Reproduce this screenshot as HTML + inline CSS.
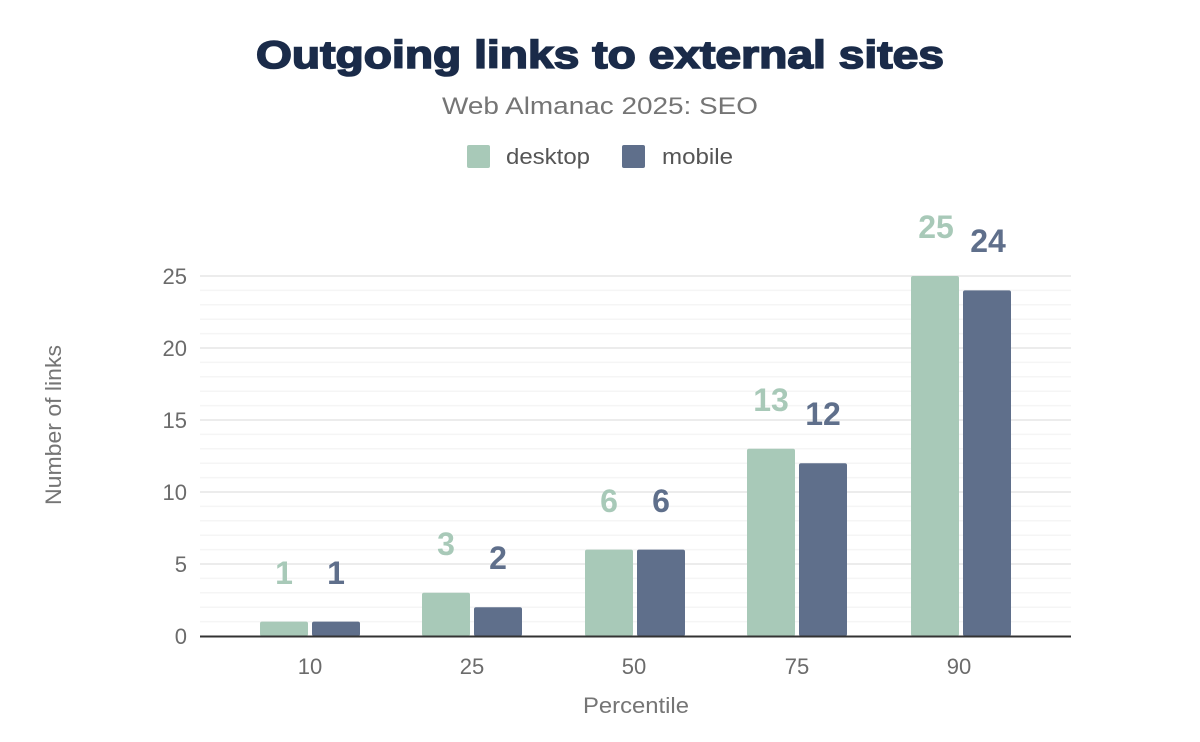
<!DOCTYPE html>
<html><head><meta charset="utf-8"><style>
body{margin:0;background:#fff;}
svg{display:block;font-family:"Liberation Sans",Arial,sans-serif;}
</style></head><body>
<svg width="1200" height="742" viewBox="0 0 1200 742">
<rect width="1200" height="742" fill="#fff"/>
<text x="256" y="68" font-size="39" font-weight="900" fill="#1a2b49" stroke="#1a2b49" stroke-width="1.6" textLength="688" lengthAdjust="spacingAndGlyphs">Outgoing links to external sites</text>
<text x="442" y="114" font-size="24" fill="#757575" textLength="316" lengthAdjust="spacingAndGlyphs">Web Almanac 2025: SEO</text>
<rect x="467" y="145" width="23" height="23" rx="2" fill="#a8c9b8"/>
<text x="506" y="164" font-size="22" fill="#555" textLength="84" lengthAdjust="spacingAndGlyphs">desktop</text>
<rect x="622" y="145" width="23" height="23" rx="2" fill="#5f6f8b"/>
<text x="662" y="164" font-size="22" fill="#555" textLength="71" lengthAdjust="spacingAndGlyphs">mobile</text>
<g stroke="#f5f5f5" stroke-width="1.5">
<line x1="200" x2="1071" y1="621.6" y2="621.6"/><line x1="200" x2="1071" y1="607.2" y2="607.2"/><line x1="200" x2="1071" y1="592.8" y2="592.8"/><line x1="200" x2="1071" y1="578.4" y2="578.4"/>
<line x1="200" x2="1071" y1="549.6" y2="549.6"/><line x1="200" x2="1071" y1="535.2" y2="535.2"/><line x1="200" x2="1071" y1="520.8" y2="520.8"/><line x1="200" x2="1071" y1="506.4" y2="506.4"/>
<line x1="200" x2="1071" y1="477.6" y2="477.6"/><line x1="200" x2="1071" y1="463.2" y2="463.2"/><line x1="200" x2="1071" y1="448.8" y2="448.8"/><line x1="200" x2="1071" y1="434.4" y2="434.4"/>
<line x1="200" x2="1071" y1="405.6" y2="405.6"/><line x1="200" x2="1071" y1="391.2" y2="391.2"/><line x1="200" x2="1071" y1="376.8" y2="376.8"/><line x1="200" x2="1071" y1="362.4" y2="362.4"/>
<line x1="200" x2="1071" y1="333.6" y2="333.6"/><line x1="200" x2="1071" y1="319.2" y2="319.2"/><line x1="200" x2="1071" y1="304.8" y2="304.8"/><line x1="200" x2="1071" y1="290.4" y2="290.4"/>
</g>
<g stroke="#ececec" stroke-width="2">
<line x1="200" x2="1071" y1="564" y2="564"/><line x1="200" x2="1071" y1="492" y2="492"/><line x1="200" x2="1071" y1="420" y2="420"/><line x1="200" x2="1071" y1="348" y2="348"/><line x1="200" x2="1071" y1="276" y2="276"/>
</g>
<g font-size="22" fill="#6b6b6b" text-anchor="end">
<text x="187" y="644">0</text><text x="187" y="572">5</text><text x="187" y="500">10</text><text x="187" y="428">15</text><text x="187" y="356">20</text><text x="187" y="284">25</text>
</g>
<text transform="translate(61,425) rotate(-90)" text-anchor="middle" font-size="22" fill="#757575" textLength="160" lengthAdjust="spacingAndGlyphs">Number of links</text>
<g fill="#a8c9b8">
<rect x="260" y="621.6" width="48" height="14.4" rx="2"/>
<rect x="422" y="592.8" width="48" height="43.2" rx="2"/>
<rect x="585" y="549.6" width="48" height="86.4" rx="2"/>
<rect x="747" y="448.8" width="48" height="187.2" rx="2"/>
<rect x="911" y="276" width="48" height="360" rx="2"/>
</g>
<g fill="#5f6f8b">
<rect x="312" y="621.6" width="48" height="14.4" rx="2"/>
<rect x="474" y="607.2" width="48" height="28.8" rx="2"/>
<rect x="637" y="549.6" width="48" height="86.4" rx="2"/>
<rect x="799" y="463.2" width="48" height="172.8" rx="2"/>
<rect x="963" y="290.4" width="48" height="345.6" rx="2"/>
</g>
<g font-size="32" font-weight="bold" text-anchor="middle" fill="#a8c9b8">
<text x="284" y="584">1</text><text x="446" y="555">3</text><text x="609" y="512">6</text><text x="771" y="411">13</text><text x="936" y="238">25</text>
</g>
<g font-size="32" font-weight="bold" text-anchor="middle" fill="#5f6f8b">
<text x="336" y="584">1</text><text x="498" y="569">2</text><text x="661" y="512">6</text><text x="823" y="425">12</text><text x="988" y="252">24</text>
</g>
<line x1="200" x2="1071" y1="636.5" y2="636.5" stroke="#333" stroke-width="2"/>
<g font-size="22" fill="#6b6b6b" text-anchor="middle">
<text x="310" y="674">10</text><text x="472" y="674">25</text><text x="634" y="674">50</text><text x="797" y="674">75</text><text x="959" y="674">90</text>
</g>
<text x="636" y="713" text-anchor="middle" font-size="22" fill="#757575" textLength="106" lengthAdjust="spacingAndGlyphs">Percentile</text>
</svg>
</body></html>
